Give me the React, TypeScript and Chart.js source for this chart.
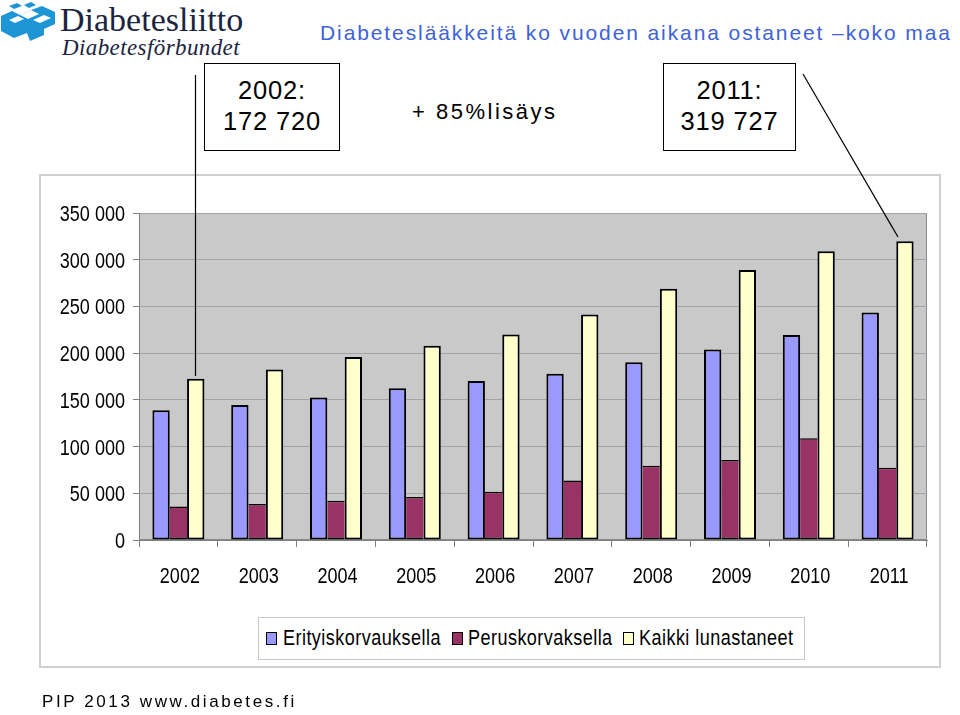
import React, { useEffect, useRef } from "react";
import { Chart, registerables } from "chart.js";

Chart.register(...registerables);

const years = ["2002", "2003", "2004", "2005", "2006", "2007", "2008", "2009", "2010", "2011"];
const erityiskorvauksella = [138800, 144500, 152400, 162400, 170200, 178000, 190200, 204000, 219500, 243500];
const peruskorvaksella = [35900, 38400, 42000, 45900, 51700, 63800, 79500, 85500, 108800, 77400];
const kaikkiLunastaneet = [172720, 182400, 196000, 208000, 220000, 241400, 269000, 289000, 309000, 319727];
const seriesNames = ["Erityiskorvauksella", "Peruskorvaksella", "Kaikki lunastaneet"];
const seriesColors = ["#9999FF", "#993366", "#FFFFCC"];
const yMax = 350000;
const yStep = 50000;

const SANS = "'Liberation Sans', Arial, sans-serif";
const SERIF = "'Liberation Serif', 'Times New Roman', serif";
const NARROW_SCALE = 0.82;

function fmt(v: number): string {
  if (v === 0) return "0";
  const s = String(Math.round(v));
  return s.replace(/\B(?=(\d{3})+(?!\d))/g, " ");
}

const plotBg = {
  id: "plotBg",
  beforeDraw(chart: any) {
    const { ctx, chartArea } = chart;
    if (!chartArea) return;
    ctx.save();
    ctx.fillStyle = "#C9C9C9";
    ctx.fillRect(chartArea.left, chartArea.top, chartArea.right - chartArea.left, chartArea.bottom - chartArea.top);
    ctx.strokeStyle = "#8A8A8A";
    ctx.lineWidth = 1;
    ctx.strokeRect(chartArea.left + 0.5, chartArea.top + 0.5, chartArea.right - chartArea.left - 1, chartArea.bottom - chartArea.top - 1);
    ctx.restore();
  },
};

// Draws the axis tick labels (taken from the scales) in an Arial-Narrow-like condensed style
const narrowTicks = {
  id: "narrowTicks",
  afterDraw(chart: any) {
    const { ctx } = chart;
    const xs = chart.scales.x;
    const ys = chart.scales.y;
    ctx.save();
    ctx.fillStyle = "#000000";
    ctx.font = "22px " + SANS;
    ctx.textBaseline = "alphabetic";
    ctx.textAlign = "center";
    xs.ticks.forEach((t: any, i: number) => {
      const x = xs.getPixelForTick(i);
      const label = chart.data.labels[t.value];
      ctx.save();
      ctx.translate(x + 1.5, xs.top + 43);
      ctx.scale(NARROW_SCALE, 1);
      ctx.fillText(String(label), 0, 0);
      ctx.restore();
    });
    ctx.textAlign = "right";
    ys.ticks.forEach((t: any, i: number) => {
      const y = ys.getPixelForTick(i);
      ctx.save();
      ctx.translate(ys.right - 14, y + 8);
      ctx.scale(NARROW_SCALE, 1);
      ctx.fillText(fmt(t.value), 0, 0);
      ctx.restore();
    });
    ctx.restore();
  },
};

function BarChart() {
  const ref = useRef<HTMLCanvasElement | null>(null);
  useEffect(() => {
    if (!ref.current) return;
    const data = [erityiskorvauksella, peruskorvaksella, kaikkiLunastaneet];
    const chart = new Chart(ref.current, {
      type: "bar",
      data: {
        labels: years,
        datasets: data.map((d, i) => ({
          label: seriesNames[i],
          data: d,
          backgroundColor: seriesColors[i],
          borderColor: "#000000",
          borderWidth: i === 1 ? { top: 1.5, bottom: 2, left: 0, right: 0 } : 2,
          borderSkipped: false,
          barPercentage: 1,
          categoryPercentage: 0.66,
        })),
      },
      options: {
        animation: false,
        responsive: true,
        maintainAspectRatio: false,
        layout: { padding: { left: 0, right: 13, top: 38, bottom: 0 } },
        plugins: {
          legend: { display: false },
          tooltip: { enabled: false },
        },
        scales: {
          x: {
            afterFit: (s: any) => {
              s.height = 127;
            },
            grid: {
              display: true,
              drawOnChartArea: false,
              offset: true,
              tickLength: 7,
              tickColor: "#808080",
            },
            border: { color: "#808080", width: 1 },
            ticks: {
              color: "rgba(0,0,0,0)",
              padding: 15,
              font: { family: SANS, size: 22 },
              maxRotation: 0,
            },
          },
          y: {
            min: 0,
            max: yMax,
            afterFit: (s: any) => {
              s.width = 99;
            },
            grid: {
              color: "#A4A4A4",
              tickColor: "#808080",
              tickLength: 6,
            },
            border: { color: "#808080", width: 1 },
            ticks: {
              stepSize: yStep,
              color: "rgba(0,0,0,0)",
              padding: 8,
              font: { family: SANS, size: 22 },
              callback: (v: any) => fmt(Number(v)),
            },
          },
        },
      },
      plugins: [plotBg, narrowTicks],
    });
    return () => chart.destroy();
  }, []);
  return <canvas ref={ref} />;
}

function Logo() {
  return (
    <div style={{ position: "absolute", left: 0, top: 0, width: 250, height: 60 }}>
      <svg width={58} height={42} style={{ position: "absolute", left: 0, top: 2 }}>
        <polygon points="9,4 17,1 22,4 14,7" fill="#1E96D6" />
        <polygon points="24,3 31,0 36,3 29,6" fill="#1E96D6" />
        <polygon points="1,14 12,9 20,13 31,8 42,4 55,10 55,22 44,27 44,33 30,39 27,31 14,36 1,29" fill="#1E96D6" />
        <polygon points="20,13 31,8 39,12 28,17" fill="#FFFFFF" />
        <polygon points="33,18 44,13 51,16 40,21" fill="#FFFFFF" />
        <polygon points="9,18 18,14 24,17 15,21" fill="#FFFFFF" />
      </svg>
      <div
        style={{
          position: "absolute",
          left: 60,
          top: 3,
          fontFamily: SERIF,
          fontSize: 34,
          lineHeight: "34px",
          color: "#1B2440",
          whiteSpace: "nowrap",
        }}
      >
        Diabetesliitto
      </div>
      <div
        style={{
          position: "absolute",
          left: 62,
          top: 36,
          fontFamily: SERIF,
          fontStyle: "italic",
          fontSize: 23,
          lineHeight: "23px",
          letterSpacing: "0.4px",
          color: "#1B2440",
          whiteSpace: "nowrap",
        }}
      >
        Diabetesförbundet
      </div>
    </div>
  );
}

const legendSwatchX = [266, 452, 623];
const legendTextX = [283, 468, 639];

function Legend() {
  return (
    <div
      style={{
        position: "absolute",
        left: 258,
        top: 617,
        width: 547,
        height: 43,
        boxSizing: "border-box",
        border: "1px solid #C8C8C8",
        background: "#FFFFFF",
      }}
    >
      {seriesNames.map((n, i) => (
        <React.Fragment key={n}>
          <div
            style={{
              position: "absolute",
              left: legendSwatchX[i] - 259,
              top: 14,
              width: 11,
              height: 13,
              boxSizing: "border-box",
              border: "1.5px solid #000",
              background: seriesColors[i],
            }}
          />
          <div
            style={{
              position: "absolute",
              left: legendTextX[i] - 259,
              top: 7,
              fontFamily: SANS,
              fontSize: 22,
              lineHeight: "26px",
              letterSpacing: "0.55px",
              whiteSpace: "nowrap",
              color: "#000",
              transform: `scaleX(${NARROW_SCALE})`,
              transformOrigin: "0 0",
            }}
          >
            {n}
          </div>
        </React.Fragment>
      ))}
    </div>
  );
}

const boxStyle: React.CSSProperties = {
  position: "absolute",
  boxSizing: "border-box",
  border: "1px solid #000",
  background: "#fff",
  fontFamily: SANS,
  fontSize: 25.5,
  lineHeight: "31px",
  letterSpacing: "0.8px",
  textAlign: "center",
  paddingTop: 11,
  color: "#000",
};

export default function App() {
  return (
    <div
      style={{
        position: "fixed",
        left: 0,
        top: 0,
        width: 960,
        height: 715,
        background: "#FFFFFF",
        overflow: "hidden",
      }}
    >
      <Logo />
      <div
        style={{
          position: "absolute",
          left: 320,
          top: 21,
          fontFamily: SANS,
          fontSize: 21,
          letterSpacing: "1.9px",
          color: "#3E62D8",
          whiteSpace: "nowrap",
          lineHeight: "24px",
        }}
      >
        Diabeteslääkkeitä ko vuoden aikana ostaneet –koko maa
      </div>
      <div style={{ ...boxStyle, left: 204, top: 63, width: 136, height: 88 }}>
        2002:
        <br />
        172 720
      </div>
      <div
        style={{
          position: "absolute",
          left: 412,
          top: 99,
          fontFamily: SANS,
          fontSize: 22,
          lineHeight: "26px",
          letterSpacing: "2.5px",
          whiteSpace: "nowrap",
          color: "#000",
        }}
      >
        + 85%lisäys
      </div>
      <div style={{ ...boxStyle, left: 663, top: 63, width: 133, height: 88 }}>
        2011:
        <br />
        319 727
      </div>
      <div
        style={{
          position: "absolute",
          left: 39,
          top: 174,
          width: 902,
          height: 494,
          boxSizing: "border-box",
          border: "2px solid #CFCFCF",
        }}
      />
      <div style={{ position: "absolute", left: 40, top: 175, width: 900, height: 492 }}>
        <BarChart />
      </div>
      <Legend />
      <svg
        width={960}
        height={715}
        style={{ position: "absolute", left: 0, top: 0, pointerEvents: "none" }}
      >
        <line x1={195.5} y1={75} x2={195.5} y2={376} stroke="#000" strokeWidth={1.2} />
        <line x1={803} y1={74} x2={898} y2={237} stroke="#000" strokeWidth={1.2} />
      </svg>
      <div
        style={{
          position: "absolute",
          left: 42,
          top: 692,
          fontFamily: SANS,
          fontSize: 17,
          lineHeight: "20px",
          letterSpacing: "2.6px",
          whiteSpace: "nowrap",
          color: "#000",
        }}
      >
        PIP 2013 www.diabetes.fi
      </div>
    </div>
  );
}
